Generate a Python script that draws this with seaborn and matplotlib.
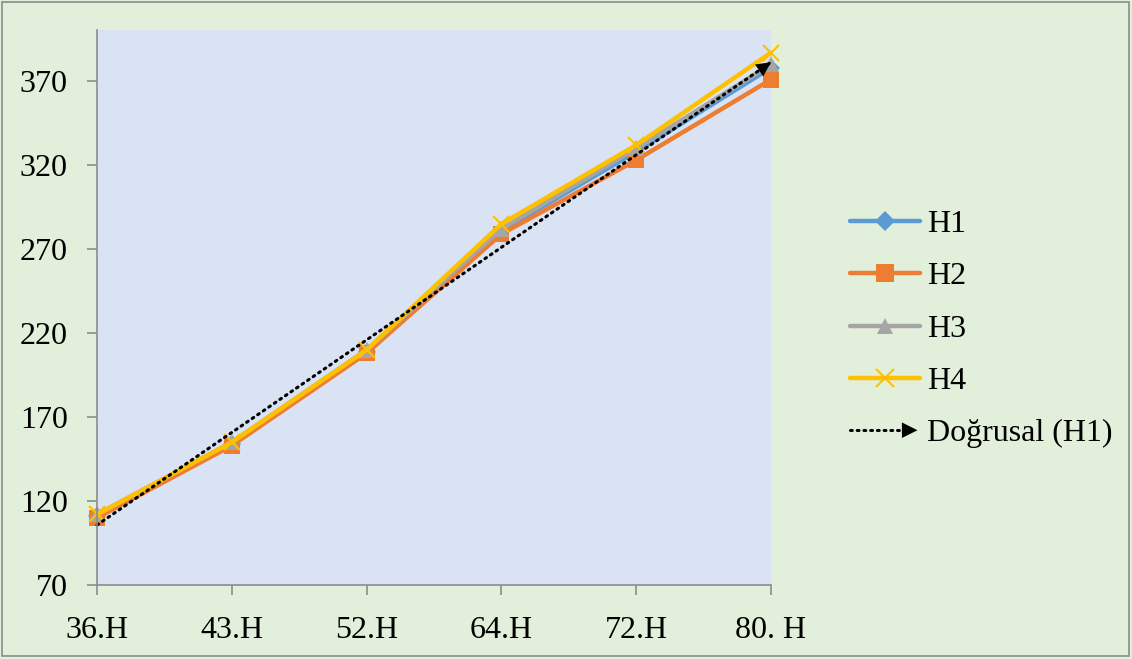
import numpy as np
import pandas as pd
import seaborn as sns
import matplotlib
matplotlib.use("Agg")
import matplotlib.pyplot as plt
from matplotlib.lines import Line2D
from matplotlib.patches import FancyArrowPatch, Rectangle
from matplotlib.legend_handler import HandlerBase

# Data
categories = ["36.H", "43.H", "52.H", "64.H", "72.H", "80. H"]
h1 = [111, 154, 209, 281, 328, 378]
h2 = [110, 153, 208, 279, 323, 371]
h3 = [112, 155, 210, 282, 330, 380]
h4 = [112, 155, 210, 285, 332, 387]
series_names = ["H1", "H2", "H3", "H4"]
yticks = [70, 120, 170, 220, 270, 320, 370]
trend_label = "Doğrusal (H1)"

colors = {"H1": "#5B9BD5", "H2": "#ED7D31", "H3": "#A5A5A5", "H4": "#FFC000"}
markers = {"H1": "D", "H2": "s", "H3": "^", "H4": "x"}
msizes = {"H1": 9, "H2": 12, "H3": 11, "H4": 12}

sns.set_theme(style="white")
plt.rcParams["font.family"] = ["Liberation Serif", "DejaVu Serif"]
plt.rcParams["text.color"] = "black"
FS = 23

df = pd.DataFrame({
    "cat": categories * 4,
    "val": h1 + h2 + h3 + h4,
    "seri": sum([[n] * len(categories) for n in series_names], []),
})

fig = plt.figure(figsize=(11.32, 6.59), dpi=100, facecolor="#E2EFDA")
ax = fig.add_axes([97 / 1132, 1 - 585 / 659, (771 - 97) / 1132, (585 - 30) / 659])
ax.set_facecolor("#DAE3F3")

for name in series_names:
    sub = df[df["seri"] == name]
    sns.lineplot(data=sub, x="cat", y="val", ax=ax, color=colors[name],
                 linewidth=3.2, marker=markers[name], markersize=msizes[name],
                 markeredgecolor=colors[name], markeredgewidth=1.5 if name == "H4" else 0,
                 sort=False, clip_on=False, legend=False)

# Linear trend of H1
xs = np.arange(len(categories))
slope, intercept = np.polyfit(xs, h1, 1)
trend = intercept + slope * xs
sns.lineplot(x=xs, y=trend, ax=ax, color="black", linewidth=2.2,
             linestyle=(0, (0.6, 1.6)), dash_capstyle="round", legend=False, clip_on=False)
ax.annotate("", xy=(xs[-1], trend[-1]),
            xytext=(xs[-1] - 0.12, trend[-1] - slope * 0.12),
            arrowprops=dict(arrowstyle="-|>", color="black", mutation_scale=26, lw=0, shrinkA=0, shrinkB=0))

ax.set_xlim(0, len(categories) - 1)
ax.set_ylim(70, 400.5)
ax.set_xticks(xs)
ax.set_xticklabels(categories, fontsize=FS, color="black")
ax.set_yticks(yticks)
ax.set_yticklabels([str(t) for t in yticks], fontsize=FS, color="black")
ax.set_xlabel("")
ax.set_ylabel("")
for s in ["top", "right"]:
    ax.spines[s].set_visible(False)
for s in ["left", "bottom"]:
    ax.spines[s].set_color("#8C8C8C")
    ax.spines[s].set_linewidth(1.2)
ax.tick_params(axis="y", length=7, width=1.2, color="#8C8C8C", pad=14, left=True)
ax.tick_params(axis="x", length=7, width=1.2, color="#8C8C8C", pad=15, bottom=True)
ax.grid(False)


class ArrowLineHandler(HandlerBase):
    def create_artists(self, legend, orig_handle, xdescent, ydescent,
                       width, height, fontsize, trans):
        y = height / 2 - ydescent
        x0, x1 = -xdescent, width - xdescent
        line = Line2D([x0, x1 - 10], [y, y], color="black", linewidth=2.2,
                      linestyle=(0, (0.6, 1.6)), dash_capstyle="round", transform=trans)
        arr = FancyArrowPatch((x1 - 16, y), (x1, y), arrowstyle="-|>",
                              mutation_scale=28, color="black", lw=0, transform=trans)
        return [line, arr]


handles = [Line2D([], [], color=colors[n], linewidth=3.2, marker=markers[n],
                  markersize=msizes[n] + 1, markeredgecolor=colors[n],
                  markeredgewidth=1.5 if n == "H4" else 0) for n in series_names]
trend_handle = Line2D([], [], color="black")
handles.append(trend_handle)
labels = series_names + [trend_label]

fig.legend(handles, labels, loc="center left", bbox_to_anchor=(834 / 1132, 1 - 329 / 659),
           frameon=False, fontsize=FS, handlelength=2.2, handletextpad=0.2,
           labelspacing=0.72, borderpad=0, numpoints=1, labelcolor="black",
           handler_map={trend_handle: ArrowLineHandler()})

fig.patches.append(Rectangle((2 / 1132, 3 / 659), 1127 / 1132, 654 / 659,
                             transform=fig.transFigure, fill=False,
                             edgecolor="#8C8C8C", linewidth=1.2))

fig.savefig("out.png", dpi=100, facecolor=fig.get_facecolor())
